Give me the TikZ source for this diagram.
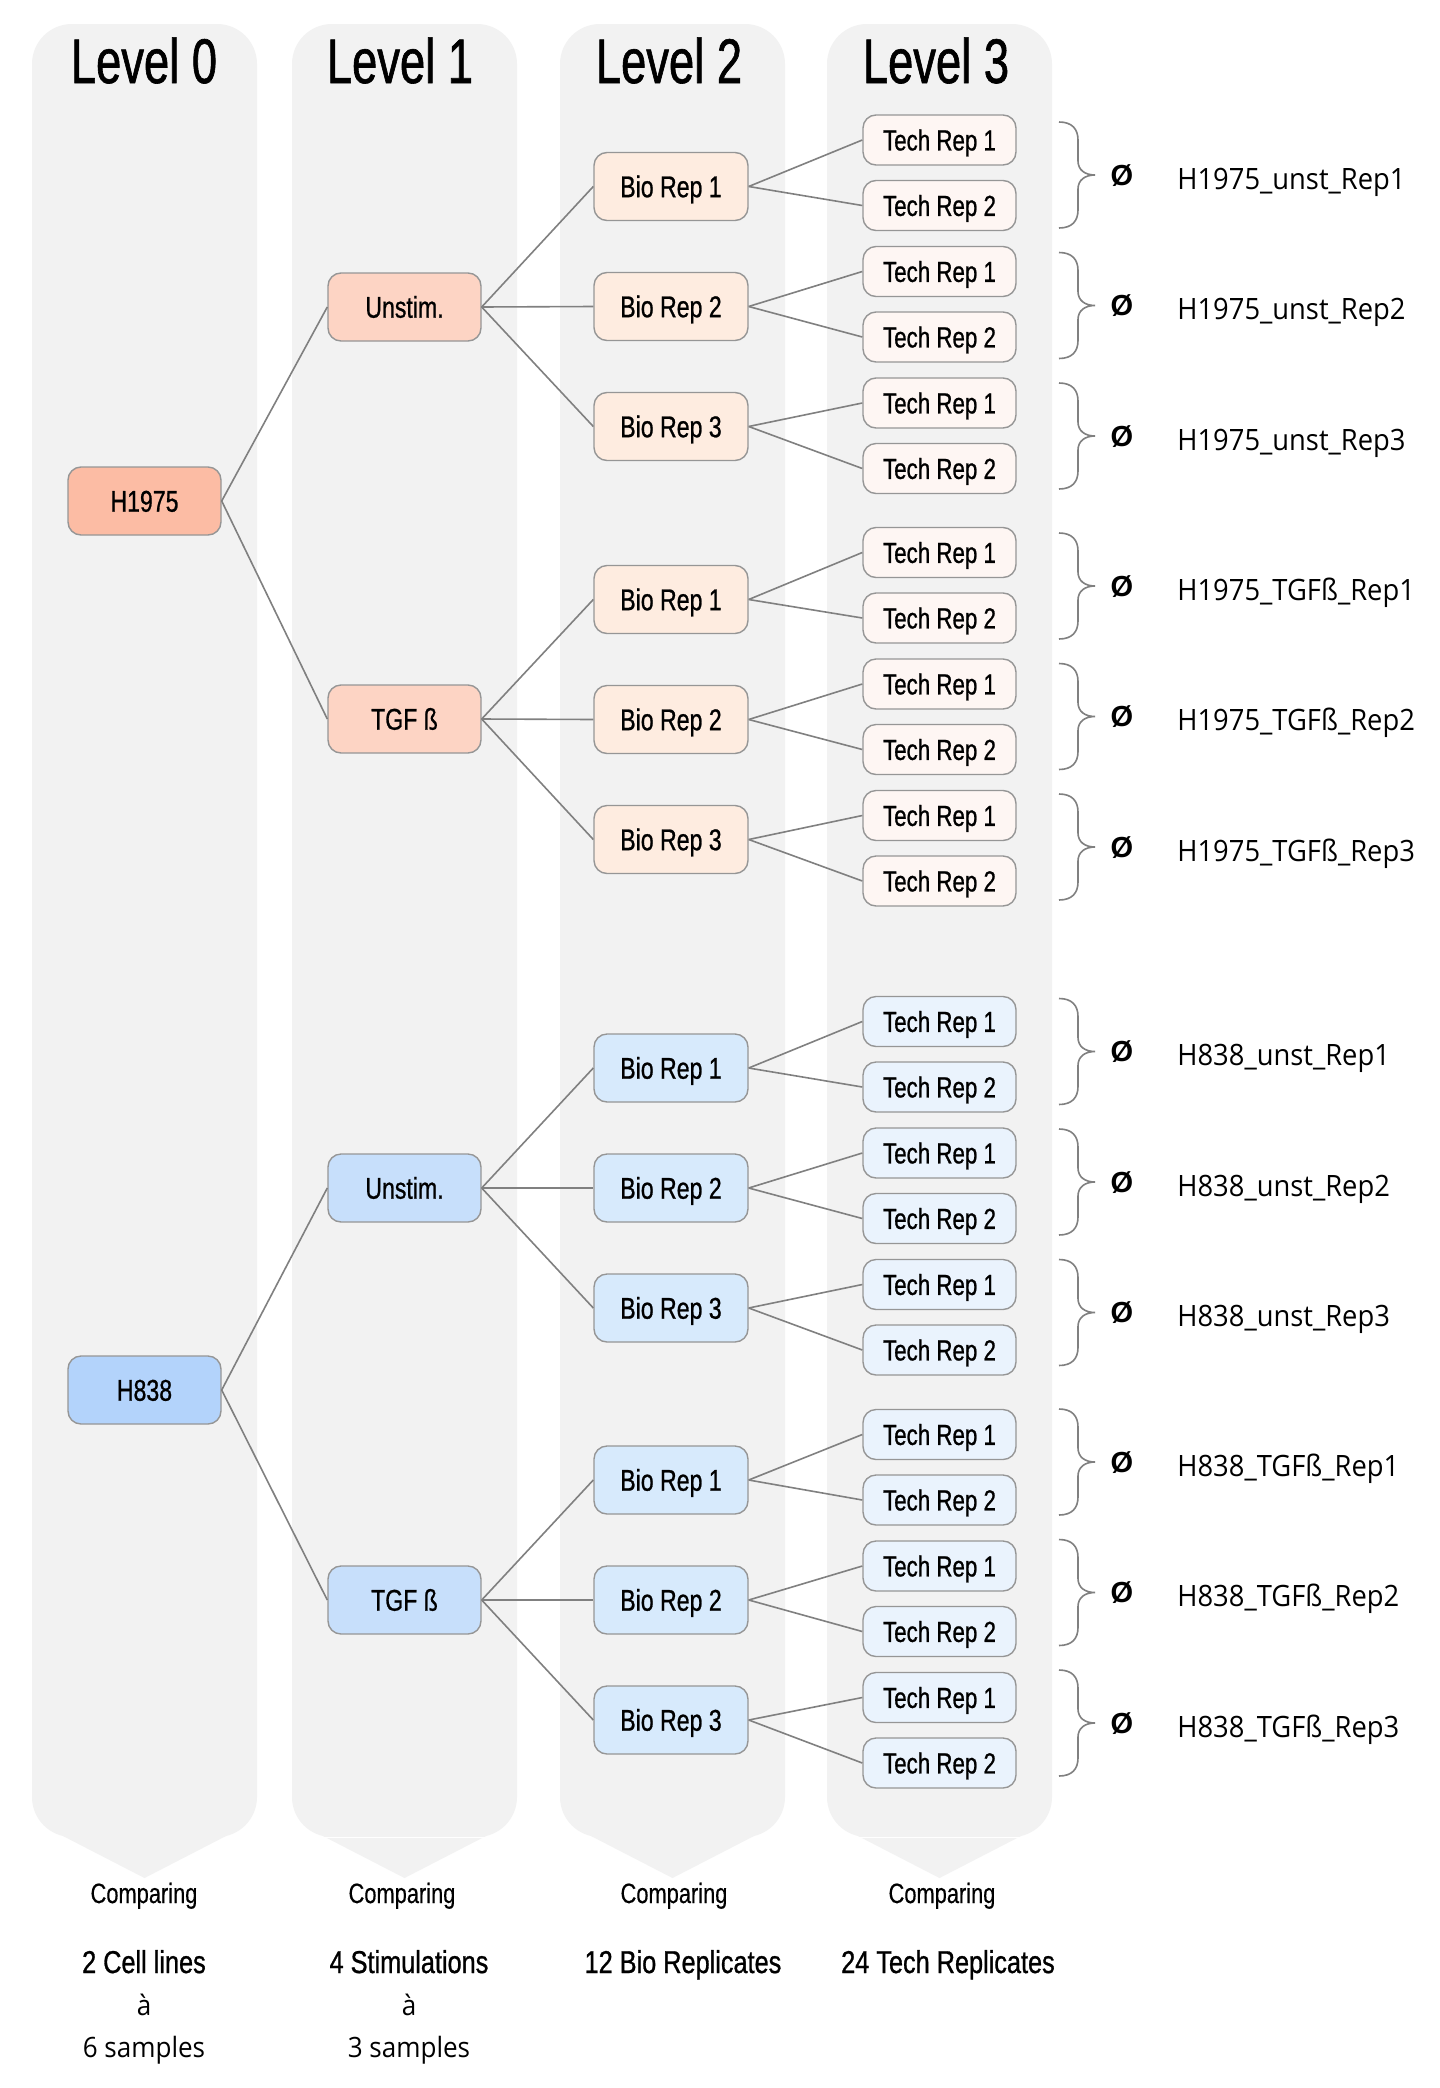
\documentclass[tikz,border=0pt]{standalone}
\usepackage{fontspec}
\setmainfont{Liberation Sans}
\newfontfamily\headf[FakeStretch=0.72,FakeBold=1.0]{Liberation Sans}
\newfontfamily\nodef[FakeStretch=0.77,FakeBold=0.8]{Liberation Sans}
\newfontfamily\cmpf[FakeStretch=0.78,FakeBold=0.3]{Liberation Sans}
\newfontfamily\sumf[FakeStretch=0.8,FakeBold=0.9]{Liberation Sans}
\newfontfamily\labf[FakeStretch=0.93]{Open Sans}
\usetikzlibrary{calc}
\definecolor{colbg}{RGB}{242,242,242}
\definecolor{boxline}{RGB}{150,150,150}
\definecolor{linkgray}{RGB}{128,128,128}
\definecolor{cr0}{RGB}{252,188,164}
\definecolor{cr1}{RGB}{253,212,196}
\definecolor{cr2}{RGB}{254,236,224}
\definecolor{cr3}{RGB}{254,246,243}
\definecolor{cb0}{RGB}{179,211,251}
\definecolor{cb1}{RGB}{199,223,251}
\definecolor{cb2}{RGB}{215,234,252}
\definecolor{cb3}{RGB}{234,243,253}
\begin{document}
\begin{tikzpicture}[x=0.5pt,y=-0.5pt,
  box/.style={draw=boxline, line width=0.7pt, rounded corners=6.5pt, inner sep=0pt,
    text height=10.7pt, text depth=0pt, font=\nodef\fontsize{15}{18}\selectfont},
  lvbox/.style={box, minimum width=76.5pt, minimum height=34pt},
  biobox/.style={box, minimum width=77pt, minimum height=34pt},
  techbox/.style={box, minimum width=76.5pt, minimum height=25pt,
    text height=10.4pt, font=\nodef\fontsize{14.5}{17}\selectfont},
  link/.style={draw=linkgray, line width=0.8pt},
  bracestyle/.style={draw=linkgray, line width=0.8pt},
  headtxt/.style={anchor=base, inner sep=0pt, font=\headf\fontsize{31.5}{36}\selectfont},
  cmptxt/.style={anchor=base, inner sep=0pt, font=\cmpf\fontsize{14}{17}\selectfont},
  sumtxt/.style={anchor=base, inner sep=0pt, font=\sumf\fontsize{15.8}{18}\selectfont},
  smtxt/.style={anchor=base, inner sep=0pt, font=\labf\fontsize{14}{17}\selectfont},
  labtxt/.style={anchor=base west, inner sep=0pt, font=\labf\fontsize{14.7}{17}\selectfont},
  emptytxt/.style={anchor=base, inner sep=0pt, font=\fontsize{14.5}{17}\selectfont\bfseries},
]
\useasboundingbox (0,0) rectangle (1440,2088);
\fill[white] (0,0) rectangle (1440,2088);

% columns
\foreach \L/\R in {32/257, 292/517, 560/785, 827/1052}{
  \fill[colbg, rounded corners=20pt] (\L,24) rectangle (\R,1837);
  \fill[colbg] (\L+31,1836) -- ({(\L+\R)/2},1878) -- (\R-31,1836) -- cycle;
}
\draw[white, line width=0.5pt] (323,1837) -- (486,1837);
\draw[white, line width=0.5pt] (858,1837) -- (1021,1837);

% headings
\foreach \n/\cx in {0/144,1/400,2/669,3/936}
  \node[headtxt] (lev\n) at (\cx,83) {Level \n};

% level 0
\node[lvbox, fill=cr0] (h1975) at (144.5,501) {H1975};
\node[lvbox, fill=cb0] (h838) at (144.5,1390) {H838};

% groups
\foreach \g/\pa/\fam/\lab/\cn/\sn/\gy/\sy/\by/\bz in {
  1/h1975/r/Unstim./H1975/unst/140/307/186.5/175,
  2/h1975/r/TGF ß/H1975/TGFß/552.5/719/599.5/586,
  3/h838/b/Unstim./H838/unst/1021.5/1188/1068/1051.5,
  4/h838/b/TGF ß/H838/TGFß/1434.5/1600/1480/1462}{
  \node[lvbox, fill=c\fam1] (s\g) at (404.5,\sy) {\lab};
  \draw[link] (\pa.east) -- (s\g.west);
  \foreach \k in {1,2,3}{
    \pgfmathsetmacro\yb{\by+(\k-1)*120}
    \pgfmathsetmacro\ya{\gy+(\k-1)*131.5}
    \pgfmathsetmacro\yc{\ya+65.5}
    \pgfmathsetmacro\ym{\bz+(\k-1)*130.5}
    \node[biobox, fill=c\fam2] (b\g-\k) at (671,\yb) {Bio Rep \k};
    \node[techbox, fill=c\fam3] (t\g-\k-1) at (939.5,\ya) {Tech Rep 1};
    \node[techbox, fill=c\fam3] (t\g-\k-2) at (939.5,\yc) {Tech Rep 2};
    \draw[link] (s\g.east) -- (b\g-\k.west);
    \draw[link] (b\g-\k.east) -- (t\g-\k-1.west);
    \draw[link] (b\g-\k.east) -- (t\g-\k-2.west);
    \draw[bracestyle] (1059,\ym-53) .. controls (1072,\ym-53) and (1078,\ym-46) .. (1078,\ym-35)
       -- (1078,\ym-14) .. controls (1078,\ym-5) and (1085,\ym) .. (1095,\ym)
       .. controls (1085,\ym) and (1078,\ym+5) .. (1078,\ym+14)
       -- (1078,\ym+35) .. controls (1078,\ym+46) and (1072,\ym+53) .. (1059,\ym+53);
    \node[emptytxt] (o\g-\k) at (1122,\ym+10) {Ø};
    \node[labtxt] (l\g-\k) at (1177,\ym+14) {\cn\_\sn\_Rep\k};
  }
}

% bottom texts
\foreach \n/\cx in {0/144,1/402,2/674,3/942}
  \node[cmptxt] (cmp\n) at (\cx,1903) {Comparing};
\node[sumtxt] (sum0) at (144,1973) {2 Cell lines};
\node[smtxt] (a0) at (144,2015) {à};
\node[smtxt] (n0) at (144,2057) {6 samples};
\node[sumtxt] (sum1) at (409,1973) {4 Stimulations};
\node[smtxt] (a1) at (409,2015) {à};
\node[smtxt] (n1) at (409,2057) {3 samples};
\node[sumtxt] (sum2) at (683,1973) {12 Bio Replicates};
\node[sumtxt] (sum3) at (948,1973) {24 Tech Replicates};
\end{tikzpicture}
\end{document}
